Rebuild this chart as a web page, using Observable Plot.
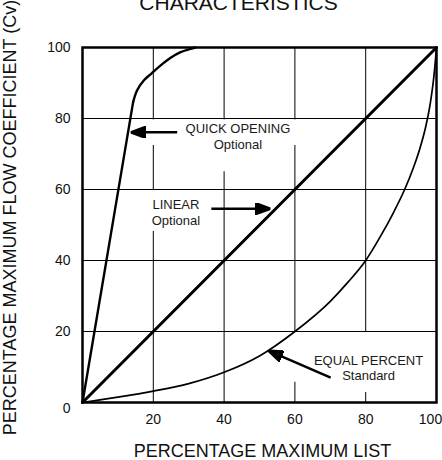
<!DOCTYPE html>
<html><head><meta charset="utf-8">
<script src="https://cdn.jsdelivr.net/npm/d3@7"></script>
<script src="https://cdn.jsdelivr.net/npm/@observablehq/plot@0.6"></script>
<style>
body{margin:0;background:#fff;}
#chart{position:relative;width:442px;height:460px;overflow:hidden;}
</style></head><body><div id="chart"></div>
<script>
// ---- data ----
const title = "CHARACTERISTICS";
const xLabel = "PERCENTAGE MAXIMUM LIST";
const yLabel = "PERCENTAGE MAXIMUM FLOW COEFFICIENT (Cv)";
const xTicks = [20, 40, 60, 80];
const xLastTick = [100];
const yTicks = [20, 40, 60, 80, 100];
const yZeroTick = [0];
const gridTicks = [20, 40, 60, 80];

const linearX = [0, 100];
const linearY = [0, 100];

const quickX = [0, 14.3, 15.4, 17.3, 19.6, 22.0, 24.9, 27.7, 30.5, 31.9];
const quickY = [0, 84.6, 87.9, 90.7, 92.8, 94.9, 97.1, 98.7, 99.6, 100];

const equalX = [0, 10, 20, 30, 40, 50, 60, 70, 75, 80, 84, 88, 91, 93.5, 95.5, 97, 98.3, 99.3, 100];
const equalY = [0, 1.5, 3.2, 5.3, 8.5, 13.1, 20, 28.5, 33.9, 40, 46.5, 53.8, 60.0, 66.2, 72.2, 77.9, 84.6, 92.2, 100];

const labelText = ["QUICK OPENING\nOptional", "LINEAR\nOptional", "EQUAL PERCENT\nStandard"];
const labelX = [43.9, 26.4, 80.8];
const labelY = [71.5, 50.1, 6.2];

const arrowX1 = [26.75, 36.4, 70.1];
const arrowY1 = [76.1, 54.6, 7.0];
const arrowX2 = [13.6, 53.1, 52.5];
const arrowY2 = [76.1, 54.6, 14.6];

// white boxes behind the annotations (the grid is interrupted there)
const maskX1 = [17.8, 35, 17, 56, 63];
const maskX2 = [61.6, 52, 36, 97, 97];
const maskY1 = [72.4, 65, 48.2, 5.7, 2.8];
const maskY2 = [79.6, 72.4, 59.7, 19.7, 5.7];

// ---- tables ----
const toPts = (xs, ys) => xs.map((x, i) => ({x, y: ys[i]}));
const linear = toPts(linearX, linearY);
const quick = toPts(quickX, quickY);
const equal = toPts(equalX, equalY);
const labels = labelText.map((t, i) => ({text: t, x: labelX[i], y: labelY[i]}));
const arrows = arrowX1.map((x, i) => ({x1: x, y1: arrowY1[i], x2: arrowX2[i], y2: arrowY2[i]}));
const masks = maskX1.map((x, i) => ({x1: x, x2: maskX2[i], y1: maskY1[i], y2: maskY2[i]}));

function solidHead(color, context) {
  const doc = (context && context.document) || document;
  const ns = "http://www.w3.org/2000/svg";
  const m = doc.createElementNS(ns, "marker");
  m.setAttribute("viewBox", "-15 -6 15 12");
  m.setAttribute("markerWidth", 15);
  m.setAttribute("markerHeight", 12);
  m.setAttribute("refX", 0);
  m.setAttribute("refY", 0);
  m.setAttribute("orient", "auto");
  m.setAttribute("markerUnits", "userSpaceOnUse");
  const p = doc.createElementNS(ns, "path");
  p.setAttribute("d", "M0,0L-15,-5.5L-15,5.5Z");
  p.setAttribute("fill", color);
  m.appendChild(p);
  return m;
}

const font = "'Liberation Sans', Arial, Helvetica, sans-serif";

const chart = Plot.plot({
  width: 442,
  height: 460,
  marginLeft: 82,
  marginRight: 6,
  marginTop: 47,
  marginBottom: 58,
  style: {fontFamily: font, background: "white", color: "#111"},
  x: {domain: [0, 100], axis: null},
  y: {domain: [0, 100], axis: null},
  marks: [
    Plot.gridX(gridTicks, {stroke: "black", strokeOpacity: 1, strokeWidth: 1}),
    Plot.gridY(gridTicks, {stroke: "black", strokeOpacity: 1, strokeWidth: 1}),
    Plot.rect(masks, {x1: "x1", x2: "x2", y1: "y1", y2: "y2", fill: "white"}),
    Plot.frame({stroke: "black", strokeWidth: 2.5}),
    Plot.axisX(xTicks, {tickSize: 0, tickPadding: 12, fontSize: 14, label: null, fill: "#111"}),
    Plot.axisX(xLastTick, {tickSize: 0, tickPadding: 12, fontSize: 14, label: null, dx: -6, fill: "#111"}),
    Plot.axisY(yTicks, {tickSize: 0, tickPadding: 12, fontSize: 14, label: null, fill: "#111"}),
    Plot.axisY(yZeroTick, {tickSize: 0, tickPadding: 12, fontSize: 14, label: null, dy: 6, fill: "#111"}),
    Plot.line(equal, {x: "x", y: "y", curve: "monotone-x", stroke: "black", strokeWidth: 1.7}),
    Plot.line(linear, {x: "x", y: "y", stroke: "black", strokeWidth: 3}),
    Plot.line(quick.slice(0, 2), {x: "x", y: "y", stroke: "black", strokeWidth: 2.4}),
    Plot.line(quick.slice(1), {x: "x", y: "y", curve: "catmull-rom", stroke: "black", strokeWidth: 2.4}),
    Plot.link(arrows, {x1: "x1", y1: "y1", x2: "x2", y2: "y2", stroke: "black", strokeWidth: 2.5, markerEnd: solidHead}),
    Plot.text(labels, {x: "x", y: "y", text: "text", fontSize: 13, lineHeight: 1.17, lineAnchor: "bottom", textAnchor: "middle", fill: "#1a1a1a"}),
    Plot.text([xLabel], {frameAnchor: "bottom", text: d => d, fontSize: 18, lineAnchor: "bottom", textAnchor: "middle", dx: 3, dy: 54.5, fill: "#111"}),
    Plot.text([yLabel], {frameAnchor: "left", text: d => d, fontSize: 18, rotate: -90, lineAnchor: "bottom", textAnchor: "middle", dx: -67, dy: -7.5, fill: "#111"}),
    Plot.text([title], {frameAnchor: "top", text: d => d, fontSize: 21, lineAnchor: "bottom", textAnchor: "middle", dx: -21, dy: -37.5, fill: "#111"})
  ]
});
document.getElementById("chart").appendChild(chart);
</script>
</body></html>
